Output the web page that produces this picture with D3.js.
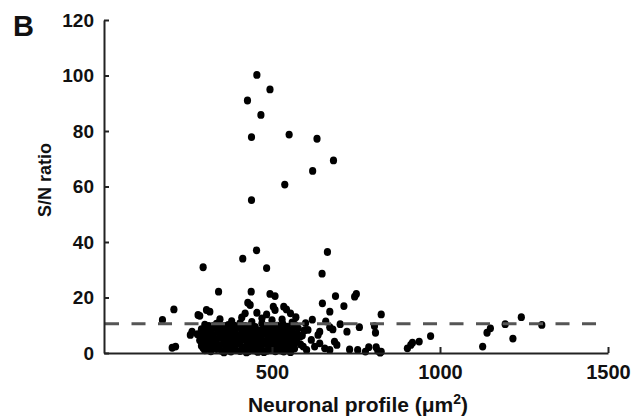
<!DOCTYPE html>
<html>
<head>
<meta charset="utf-8">
<script src="https://cdn.jsdelivr.net/npm/d3@7"></script>
<style>
  body { margin: 0; background: #fff; }
  text { font-family: "Liberation Sans", Arial, Helvetica, sans-serif; font-weight: bold; fill: #111; }
</style>
</head>
<body>
<div id="chart"></div>
<script>
// neuronal profile (µm²), S/N ratio
let highResponders = [
    [455, 100.2], [494, 95], [427, 91], [467, 85.8], [439, 77.8], [551, 78.7], [634, 77.2],
    [683, 69.4], [621, 65.6], [538, 60.7], [439, 55.1], [454, 37], [413, 34], [665, 36.4],
    [295, 30.9], [484, 30.6], [649, 28.6], [341, 22.1], [438, 22.1], [494, 21.3], [509, 20.5],
    [689, 20.5], [751, 21.3], [746, 20.3]
]

let midResponders = [
    [208, 15.7], [174, 11.9], [428, 18.1], [435, 17.3], [305, 15.5], [315, 14.9], [280, 13.7],
    [650, 17.9], [672, 14.9], [714, 16.9], [825, 13.9], [420, 14.3], [455, 14.5], [484, 13.9],
    [504, 16.7], [509, 15.5], [535, 16.7], [543, 15.7], [555, 14.3], [571, 12.9], [285, 13.4],
    [1242, 12.9], [1303, 10.1], [1194, 10.4], [703, 10.4],
    [345, 12.2], [380, 11.5], [410, 12.8], [440, 11.2], [470, 12.5], [500, 11.8], [530, 12.1],
    [560, 11.0], [600, 10.8], [620, 12.0], [660, 11.4]
]

let lowResponders = [
    [825, 0.5], [903, 1.7], [913, 2.9], [918, 3.7], [938, 4.1], [972, 6.1], [1127, 2.3],
    [1140, 7.3], [1150, 8.9], [1217, 5.2], [203, 1.9], [213, 2.3], [257, 6.5], [262, 7.7],
    [760, 9.3], [805, 9.7], [808, 7.3], [672, 9.3], [681, 8.5], [642, 7.7], [637, 6.5],
    [607, 8.3], [686, 4.1], [693, 2.9], [723, 7.7], [731, 1.3], [755, 1.1], [778, 0.5],
    [788, 2.1], [810, 2.1], [815, 0.8], [822, 0.1], [657, 1.7], [672, 1.1], [627, 2.3],
    [642, 3.5], [617, 4.7], [573, 4.7], [583, 5.9], [593, 2.3], [603, 1.1], [553, 3.5], [563, 1.7]
]

let denseCluster = [
    [300, 1.0], [318, 0.6], [335, 1.4], [350, 0.8], [362, 1.2], [378, 0.5], [392, 1.1], [405, 0.7],
    [418, 1.3], [430, 0.6], [445, 1.0], [458, 0.4], [470, 1.2], [485, 0.8], [497, 1.4], [510, 0.6],
    [522, 1.1], [535, 0.5], [548, 1.3], [528, 0.9], [455, 0.6], [372, 0.9],
    [290, 2.6], [305, 3.1], [322, 2.2], [340, 2.8], [355, 3.3], [368, 2.4], [383, 2.9], [398, 3.4],
    [412, 2.1], [425, 2.7], [438, 3.2], [452, 2.3], [465, 2.9], [478, 3.5], [490, 2.2], [503, 2.8],
    [516, 3.3], [528, 2.4], [542, 3.0], [585, 3.1],
    [285, 4.6], [300, 5.2], [315, 4.3], [330, 4.9], [345, 5.4], [360, 4.2], [375, 4.8], [388, 5.3],
    [402, 4.4], [415, 5.0], [428, 4.1], [442, 5.5], [455, 4.7], [468, 5.1], [480, 4.3], [494, 4.9],
    [507, 5.4], [520, 4.2], [533, 4.8], [547, 5.3], [562, 4.4], [530, 5.8],
    [278, 6.8], [295, 6.2], [310, 7.1], [325, 6.5], [340, 7.4], [356, 6.1], [370, 6.9], [385, 7.3],
    [398, 6.3], [412, 7.0], [425, 6.4], [438, 7.5], [452, 6.7], [465, 6.2], [478, 7.2], [492, 6.6],
    [505, 7.4], [518, 6.0], [532, 6.8], [546, 7.2], [560, 6.4], [575, 7.0], [590, 6.3],
    [290, 8.6], [305, 9.2], [320, 8.3], [336, 8.9], [350, 9.5], [365, 8.2], [380, 8.8], [395, 9.3],
    [410, 8.4], [423, 9.0], [437, 8.5], [450, 9.4], [463, 8.1], [477, 8.7], [490, 9.3], [503, 8.3],
    [517, 9.0], [530, 8.6], [545, 9.5], [560, 8.4], [578, 8.9], [596, 8.1],
    [300, 10.2], [335, 10.6], [370, 10.1], [405, 10.8], [438, 10.3], [470, 10.7], [500, 10.0],
    [532, 10.5], [568, 10.2]
]

// second pass over the blob, read between the rows above
let denseFill = [
    [295, 1.8], [312, 1.9], [343, 1.9], [357, 0.2], [386, 1.9], [412, 1.9],
    [424, 0.2], [437, 1.9], [463, 1.9], [476, 0.3], [491, 1.9], [516, 1.9],
    [541, 1.9], [555, 0.3], [567, 1.6],
    [297, 3.9], [314, 3.6], [332, 3.8], [362, 3.7], [376, 3.9], [391, 3.8], [405, 3.6],
    [432, 3.7], [446, 3.9], [459, 3.6], [472, 4.0], [499, 3.9], [512, 3.6],
    [525, 4.0], [538, 3.7], [567, 3.6],
    [290, 5.8], [308, 5.6], [322, 5.9], [352, 5.9], [367, 5.6], [381, 5.8], [395, 5.6],
    [421, 5.7], [435, 5.9], [448, 5.6], [461, 5.9], [487, 5.9], [500, 5.7],
    [513, 5.9], [540, 5.7],
    [302, 7.9], [318, 7.8], [348, 7.9], [362, 7.8], [377, 7.7], [391, 7.9],
    [418, 7.7], [431, 7.9], [445, 7.8], [458, 7.7], [485, 7.8], [498, 7.7], [511, 7.9],
    [524, 7.8], [553, 7.9],
    [312, 9.8], [327, 9.9], [358, 9.8], [388, 9.9], [420, 9.8], [485, 9.8],
    [515, 9.9]
]

let xTicks = [500, 1000, 1500]
let yTicks = [0, 20, 40, 60, 80, 100, 120]
let threshold = 10.5

let data = highResponders.concat(midResponders, lowResponders, denseCluster, denseFill)

let width = 641, height = 419

let svg = d3.select("#chart")
    .append("svg")
    .attr("width", width)
    .attr("height", height)

let xScale = d3.scaleLinear()
    .domain([0, 1500])
    .range([104, 608])

let yScale = d3.scaleLinear()
    .domain([0, 120])
    .range([353, 20])

svg.append("g")
    .selectAll("ellipse")
    .data(data)
    .enter()
    .append("ellipse")
    .attr("cx", d => xScale(d[0]))
    .attr("cy", d => yScale(d[1]))
    .attr("rx", 3.6)
    .attr("ry", 3.9)
    .style("fill", "#000")

// threshold line, drawn over the dots
svg.append("line")
    .attr("x1", xScale(3))
    .attr("x2", xScale(1465))
    .attr("y1", yScale(threshold))
    .attr("y2", yScale(threshold))
    .style("stroke", "#555")
    .style("stroke-width", 3)
    .style("stroke-dasharray", "14,12.5")

let xAxis = svg.append("g")
    .attr("transform", "translate(0," + yScale(0) + ")")
    .call(d3.axisBottom(xScale).tickValues(xTicks).tickFormat(d3.format("d"))
        .tickSizeInner(-6).tickSizeOuter(0).tickPadding(12))

let yAxis = svg.append("g")
    .attr("transform", "translate(" + xScale(0) + ",0)")
    .call(d3.axisLeft(yScale).tickValues(yTicks).tickSizeInner(-5).tickSizeOuter(0).tickPadding(10))

svg.selectAll(".domain, .tick line")
    .style("stroke", "#222")
    .style("stroke-width", 2)

xAxis.selectAll("text").style("font-size", "20px").style("fill", "#111")
yAxis.selectAll("text").style("font-size", "19px").style("fill", "#111")

svg.append("text")
    .attr("x", 13)
    .attr("y", 36)
    .style("font-size", "29px")
    .text("B")

svg.append("text")
    .attr("transform", "translate(51,180) rotate(-90)")
    .attr("text-anchor", "middle")
    .style("font-size", "18px")
    .text("S/N ratio")

let xTitle = svg.append("text")
    .attr("x", 358)
    .attr("y", 412)
    .attr("text-anchor", "middle")
    .style("font-size", "21px")

xTitle.append("tspan").text("Neuronal profile (\u03bcm")
xTitle.append("tspan").attr("dy", -8).style("font-size", "14px").text("2")
xTitle.append("tspan").attr("dy", 8).text(")")
</script>
</body>
</html>
